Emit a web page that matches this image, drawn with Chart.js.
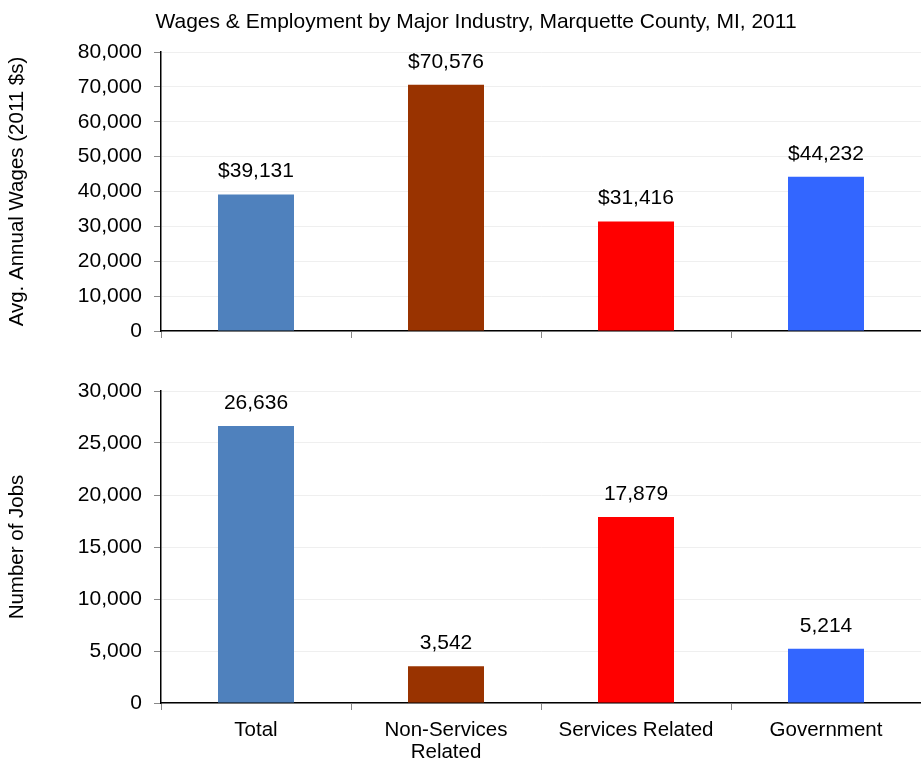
<!DOCTYPE html>
<html>
<head>
<meta charset="utf-8">
<script src="https://cdn.jsdelivr.net/npm/chart.js@4.4.1/dist/chart.umd.min.js"></script>
<style>
  body { margin: 0; background: #fff; }
  #wrap { position: relative; width: 921px; height: 759px; overflow: hidden; }
  canvas { position: absolute; left: 0; }
</style>
</head>
<body>
<div id="wrap">
  <canvas id="wagesChart" width="921" height="345" style="top:0"></canvas>
  <canvas id="jobsChart" width="921" height="414" style="top:345px"></canvas>
</div>
<script>
  const chartTitle = 'Wages & Employment by Major Industry, Marquette County, MI, 2011';
  const categories = ['Total', ['Non-Services', 'Related'], 'Services Related', 'Government'];
  const barColors = ['#4F81BD', '#993300', '#FF0000', '#3366FF'];
  const wages = [39131, 70576, 31416, 44232];
  const jobs = [26636, 3542, 17879, 5214];
  const wageTicks = [0, 10000, 20000, 30000, 40000, 50000, 60000, 70000, 80000];
  const jobTicks = [0, 5000, 10000, 15000, 20000, 25000, 30000];

  const FONT = 'Liberation Sans, Arial, sans-serif';
  Chart.defaults.font.family = FONT;
  Chart.defaults.color = '#000';

  // value labels above each bar
  const barLabels = {
    id: 'barLabels',
    afterDatasetsDraw(chart, args, opts) {
      const ctx = chart.ctx;
      const meta = chart.getDatasetMeta(0);
      const data = chart.data.datasets[0].data;
      ctx.save();
      ctx.font = '21px ' + FONT;
      ctx.fillStyle = '#000';
      ctx.textAlign = 'center';
      ctx.textBaseline = 'middle';
      meta.data.forEach((bar, i) => {
        ctx.fillText((opts.prefix || '') + data[i].toLocaleString('en-US'), bar.x, bar.y - 23);
      });
      ctx.restore();
    }
  };

  // chart title, placed like the original
  const topTitle = {
    id: 'topTitle',
    afterDraw(chart, args, opts) {
      if (!opts.text) return;
      const ctx = chart.ctx;
      ctx.save();
      ctx.font = '21px ' + FONT;
      ctx.fillStyle = '#000';
      ctx.textAlign = 'center';
      ctx.textBaseline = 'middle';
      ctx.fillText(opts.text, 476, 22);
      ctx.restore();
    }
  };

  function makeChart(id, values, ticks, yTitle, opt) {
    const ctx = document.getElementById(id).getContext('2d');
    return new Chart(ctx, {
      type: 'bar',
      data: {
        labels: categories,
        datasets: [{
          data: values,
          backgroundColor: barColors,
          borderWidth: 0,
          categoryPercentage: 1,
          barPercentage: 0.4
        }]
      },
      options: {
        responsive: false,
        animation: false,
        layout: { padding: { top: opt.padTop, left: 0, right: 0, bottom: 0 } },
        plugins: {
          legend: { display: false },
          tooltip: { enabled: false },
          barLabels: { prefix: opt.prefix },
          topTitle: { text: opt.title }
        },
        scales: {
          x: {
            grid: { drawOnChartArea: false, tickLength: 7, tickColor: '#888', offset: true },
            border: { color: '#000', width: 1.5 },
            ticks: { display: opt.showX, font: { size: 20.5, lineHeight: 1.05 }, padding: 10, maxRotation: 0, autoSkip: false },
            afterFit(scale) {
              scale.height = opt.xHeight;
              scale.paddingLeft = 0; scale.paddingRight = 0;
            }
          },
          y: {
            min: 0,
            max: ticks[ticks.length - 1],
            afterBuildTicks(scale) { scale.ticks = ticks.map(v => ({ value: v })); },
            grid: { color: '#efefef', tickLength: 7, tickColor: '#888' },
            border: { color: '#000', width: 1.5 },
            ticks: {
              font: { size: 21 },
              padding: 12,
              callback: v => v.toLocaleString('en-US')
            },
            title: { display: true, text: yTitle, font: { size: 20.5 }, padding: { top: 5, bottom: 0 } },
            afterFit(scale) {
              scale.width = 161;
              scale.paddingTop = 0; scale.paddingBottom = 0;
            }
          }
        }
      },
      plugins: [barLabels, topTitle]
    });
  }

  makeChart('wagesChart', wages, wageTicks, 'Avg. Annual Wages (2011 $s)',
    { padTop: 52, xHeight: 14, showX: false, prefix: '$', title: chartTitle });
  makeChart('jobsChart', jobs, jobTicks, 'Number of Jobs',
    { padTop: 46, xHeight: 56, showX: true, prefix: '', title: '' });
</script>
</body>
</html>
